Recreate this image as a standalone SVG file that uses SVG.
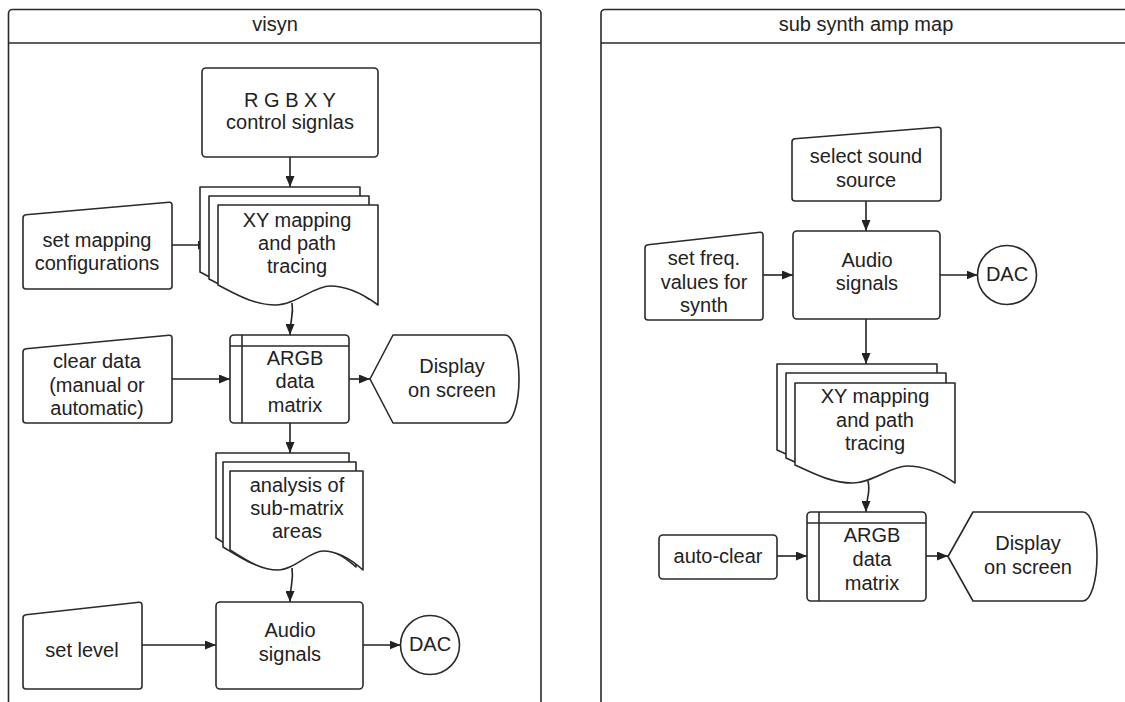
<svg xmlns="http://www.w3.org/2000/svg" width="1125" height="702" viewBox="0 0 1125 702">
<defs>
<marker id="ah" markerUnits="userSpaceOnUse" markerWidth="11" markerHeight="9" refX="11" refY="4.5" orient="auto">
<path d="M0,0 L11,4.5 L0,9 Z" fill="#222"/>
</marker>
<style>
.s{fill:#fff;stroke:#2a2a2a;stroke-width:1.6;stroke-linejoin:round}
.ln{fill:none;stroke:#2a2a2a;stroke-width:1.6}
.c{fill:none;stroke:#222;stroke-width:1.6;marker-end:url(#ah)}
text{font-family:"Liberation Sans",Arial,sans-serif;font-size:20px;fill:#222;text-anchor:middle}
</style>
</defs>
<rect width="1125" height="702" fill="#fff"/>

<g id="container-visyn">
<rect class="s" x="8.5" y="9.5" width="532.5" height="760" rx="4"/>
<line class="ln" x1="8.5" y1="43" x2="541" y2="43"/>
<text x="275" y="31">visyn</text>
</g>
<g id="container-subsynth">
<rect class="s" x="601" y="9.5" width="540" height="760" rx="4"/>
<line class="ln" x1="601" y1="43" x2="1141" y2="43"/>
<text x="866" y="31">sub synth amp map</text>
</g>

<g id="connectors">
<line class="c" x1="290" y1="157" x2="290" y2="187"/>
<line class="c" x1="172" y1="245" x2="209" y2="245"/>
<path class="c" d="M292,303 C294,316 290,318 290,335"/>
<line class="c" x1="172" y1="379" x2="230" y2="379"/>
<line class="c" x1="349" y1="379" x2="370" y2="379"/>
<line class="c" x1="290" y1="423" x2="290" y2="453"/>
<path class="c" d="M292,568 C294,582 290,584 290,602"/>
<line class="c" x1="142" y1="645" x2="216" y2="645"/>
<line class="c" x1="363" y1="645" x2="400.5" y2="645"/>

<line class="c" x1="866" y1="201" x2="866" y2="231"/>
<line class="c" x1="763" y1="275" x2="793" y2="275"/>
<line class="c" x1="940" y1="275" x2="977.5" y2="275"/>
<line class="c" x1="866" y1="319" x2="866" y2="364"/>
<path class="c" d="M868,481 C871,494 866,497 866,512"/>
<line class="c" x1="777" y1="556" x2="807" y2="556"/>
<line class="c" x1="926" y1="556" x2="948" y2="556"/>
</g>

<g id="rgbxy">
<rect class="s" x="202" y="68" width="176" height="89" rx="4"/>
<text x="290" y="107">R G B X Y</text>
<text x="290" y="129">control signlas</text>
</g>

<g id="set-mapping">
<path class="s" d="M23,218 Q23,215 26,214.7 L169,202.3 Q172,202 172,205 L172,286 Q172,289 169,289 L26,289 Q23,289 23,286 Z"/>
<text x="97" y="247">set mapping</text>
<text x="97" y="270">configurations</text>
</g>

<g id="xy-mapping-left">
<path class="s" d="M200,187 H360 V292 C344,280 328,273 312,273 C296,273 276.8,292 257.6,292 C235.2,292 216,280 200,272 Z"/>
<path class="s" d="M209,196 H369 V299 C353,287 337,280 321,280 C305,280 285.8,299 266.6,299 C244.2,299 225,287 209,279 Z"/>
<path class="s" d="M218,205 H378 V305 C362,293 346,286 330,286 C314,286 294.8,305 275.6,305 C253.2,305 234,293 218,285 Z"/>
<text x="297" y="227">XY mapping</text>
<text x="297" y="250">and path</text>
<text x="297" y="273">tracing</text>
</g>

<g id="clear-data">
<path class="s" d="M23,352 Q23,349 26,348.7 L169,335.3 Q172,335 172,338 L172,420 Q172,423 169,423 L26,423 Q23,423 23,420 Z"/>
<text x="97" y="368">clear data</text>
<text x="97" y="392">(manual or</text>
<text x="97" y="415">automatic)</text>
</g>

<g id="argb-left">
<rect class="s" x="230" y="335" width="119" height="88" rx="4"/>
<line class="ln" x1="230" y1="346" x2="349" y2="346"/>
<line class="ln" x1="242" y1="335" x2="242" y2="423"/>
<text x="295" y="365">ARGB</text>
<text x="295" y="388">data</text>
<text x="295" y="412">matrix</text>
</g>

<g id="display-left">
<path class="s" d="M370,379 L393,335 H505 A14,44 0 0 1 505,423 H393 Z"/>
<text x="452" y="373">Display</text>
<text x="452" y="397">on screen</text>
</g>

<g id="analysis">
<path class="s" d="M216,453 H349 V558 C335.7,546 322.4,539 309.1,539 C295.8,539 279.8,558 263.9,558 C245.3,558 229.3,546 216,538 Z"/>
<path class="s" d="M223,462 H356 V567 C342.7,555 329.4,548 316.1,548 C302.8,548 286.8,567 270.9,567 C252.3,567 236.3,555 223,547 Z"/>
<path class="s" d="M230,471 H363 V570 C349.7,558 336.4,551 323.1,551 C309.8,551 293.8,570 277.9,570 C259.3,570 243.3,558 230,550 Z"/>
<text x="297" y="492">analysis of</text>
<text x="297" y="515">sub-matrix</text>
<text x="297" y="538">areas</text>
</g>

<g id="set-level">
<path class="s" d="M23,618 Q23,615 26,614.7 L139,602.3 Q142,602 142,605 L142,686 Q142,689 139,689 L26,689 Q23,689 23,686 Z"/>
<text x="82" y="657">set level</text>
</g>

<g id="audio-left">
<rect class="s" x="216" y="602" width="147" height="87" rx="4"/>
<text x="290" y="637">Audio</text>
<text x="290" y="661">signals</text>
</g>

<g id="dac-left">
<circle class="s" cx="430" cy="645" r="29.5"/>
<text x="430" y="651">DAC</text>
</g>

<g id="select-sound">
<path class="s" d="M792,142 Q792,139 795,138.8 L938,127.2 Q941,127 941,130 L941,198 Q941,201 938,201 L795,201 Q792,201 792,198 Z"/>
<text x="866" y="163">select sound</text>
<text x="866" y="187">source</text>
</g>

<g id="set-freq">
<path class="s" d="M645,248 Q645,245 648,244.7 L760,232.3 Q763,232 763,235 L763,317 Q763,320 760,320 L648,320 Q645,320 645,317 Z"/>
<text x="704" y="265">set freq.</text>
<text x="704" y="289">values for</text>
<text x="704" y="312">synth</text>
</g>

<g id="audio-right">
<rect class="s" x="793" y="231" width="147" height="88" rx="4"/>
<text x="867" y="267">Audio</text>
<text x="867" y="290">signals</text>
</g>

<g id="dac-right">
<circle class="s" cx="1007" cy="275" r="29.5"/>
<text x="1007" y="281">DAC</text>
</g>

<g id="xy-mapping-right">
<path class="s" d="M777,364 H937 V468 C921,457 905,451 889,451 C873,451 853.8,468 834.6,468 C812.2,468 793,457 777,450 Z"/>
<path class="s" d="M786,373 H946 V476 C930,465 914,459 898,459 C882,459 862.8,476 843.6,476 C821.2,476 802,465 786,458 Z"/>
<path class="s" d="M795,383 H955 V483 C939,472 923,466 907,466 C891,466 871.8,483 852.6,483 C830.2,483 811,472 795,465 Z"/>
<text x="875" y="403">XY mapping</text>
<text x="875" y="427">and path</text>
<text x="875" y="450">tracing</text>
</g>

<g id="auto-clear">
<rect class="s" x="659" y="535" width="118" height="44" rx="4"/>
<text x="718" y="563">auto-clear</text>
</g>

<g id="argb-right">
<rect class="s" x="807" y="512" width="119" height="89" rx="4"/>
<line class="ln" x1="807" y1="523" x2="926" y2="523"/>
<line class="ln" x1="819" y1="512" x2="819" y2="601"/>
<text x="872" y="542">ARGB</text>
<text x="872" y="566">data</text>
<text x="872" y="590">matrix</text>
</g>

<g id="display-right">
<path class="s" d="M948,556.5 L973,512 H1083 A14,44.5 0 0 1 1083,601 H973 Z"/>
<text x="1028" y="550">Display</text>
<text x="1028" y="574">on screen</text>
</g>
</svg>
